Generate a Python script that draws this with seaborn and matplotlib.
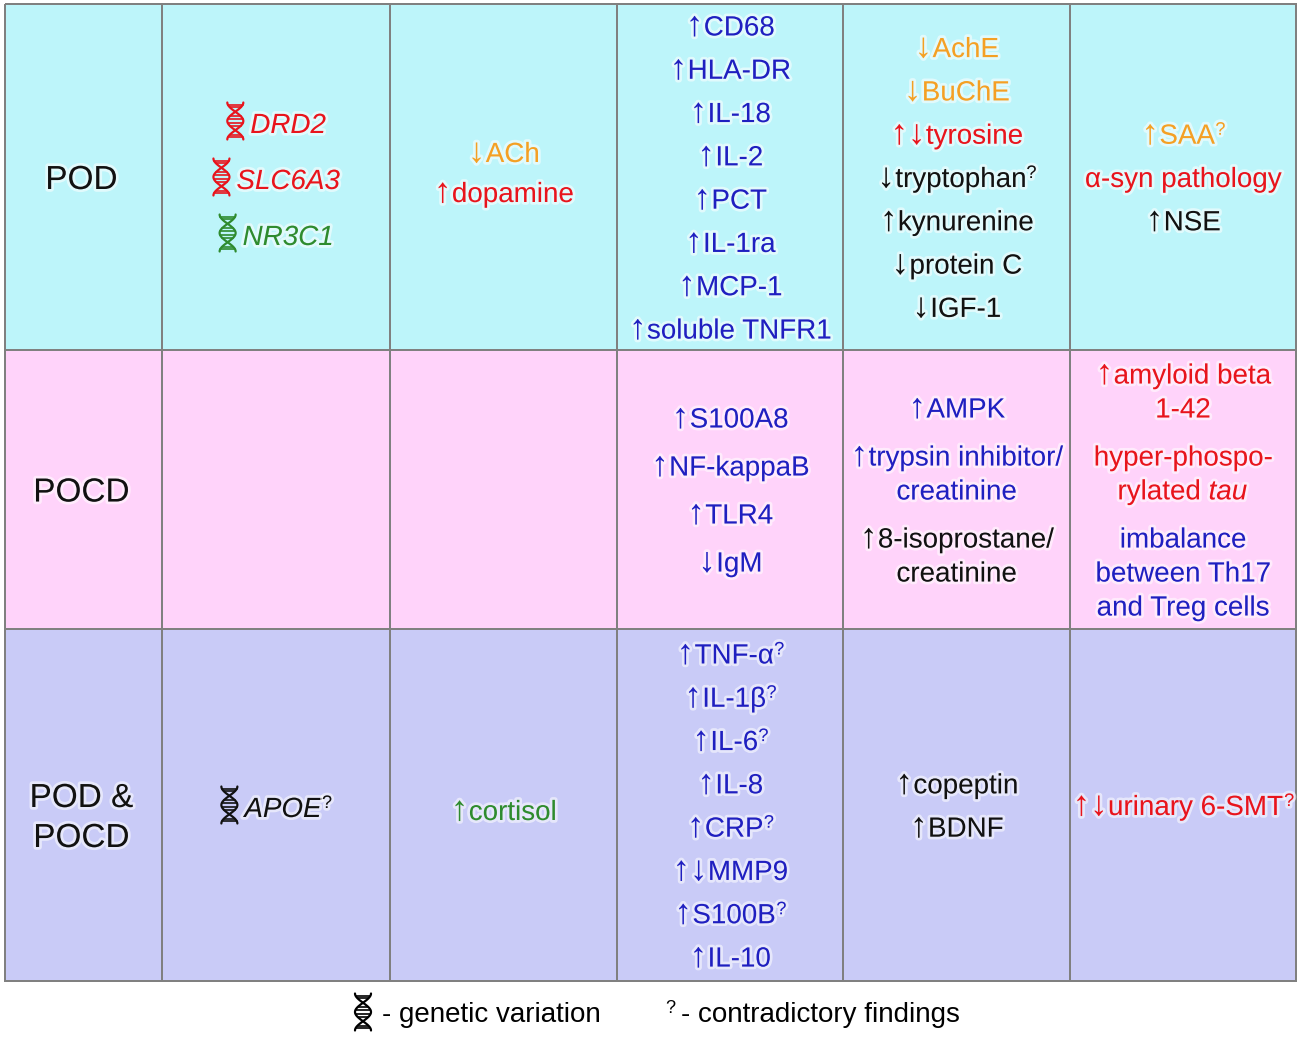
import numpy as np
import matplotlib
matplotlib.use('Agg')
import matplotlib.pyplot as plt
import matplotlib.patheffects as pe
from matplotlib.colors import ListedColormap
import seaborn as sns

#-----------------------------------------------------------------------
# table content (one list per cell, colour keys point to `ink`)
#-----------------------------------------------------------------------
row_names = ['POD', 'POCD', 'POD &\nPOCD']

genes_pod = [('DRD2', 'red'), ('SLC6A3', 'red'), ('NR3C1', 'green')]
genes_pocd = []
genes_both = [('APOE?', 'black')]

neuro_pod = [('↓ACh', 'orange'), ('↑dopamine', 'red')]
neuro_pocd = []
neuro_both = [('↑cortisol', 'green')]

immune_pod = [('↑CD68', 'blue'), ('↑HLA-DR', 'blue'), ('↑IL-18', 'blue'), ('↑IL-2', 'blue'),
              ('↑PCT', 'blue'), ('↑IL-1ra', 'blue'), ('↑MCP-1', 'blue'), ('↑soluble TNFR1', 'blue')]
immune_pocd = [('↑S100A8', 'blue'), ('↑NF-kappaB', 'blue'), ('↑TLR4', 'blue'), ('↓IgM', 'blue')]
immune_both = [('↑TNF-α?', 'blue'), ('↑IL-1β?', 'blue'), ('↑IL-6?', 'blue'), ('↑IL-8', 'blue'),
               ('↑CRP?', 'blue'), ('↑↓MMP9', 'blue'), ('↑S100B?', 'blue'), ('↑IL-10', 'blue')]

metab_pod = [('↓AchE', 'orange'), ('↓BuChE', 'orange'), ('↑↓tyrosine', 'red'),
             ('↓tryptophan?', 'black'), ('↑kynurenine', 'black'), ('↓protein C', 'black'),
             ('↓IGF-1', 'black')]
metab_pocd = [('↑AMPK', 'blue'), ('↑trypsin inhibitor/\ncreatinine', 'blue'),
              ('↑8-isoprostane/\ncreatinine', 'black')]
metab_both = [('↑copeptin', 'black'), ('↑BDNF', 'black')]

other_pod = [('↑SAA?', 'orange'), ('α-syn pathology', 'red'), ('↑NSE', 'black')]
other_pocd = [('↑amyloid beta\n1-42', 'red'), ('hyper-phospo-\nrylated $\\mathit{tau}$', 'red'),
              ('imbalance\nbetween Th17\nand Treg cells', 'blue')]
other_both = [('↑↓urinary 6-SMT?', 'red')]

cells = [[genes_pod, neuro_pod, immune_pod, metab_pod, other_pod],
         [genes_pocd, neuro_pocd, immune_pocd, metab_pocd, other_pocd],
         [genes_both, neuro_both, immune_both, metab_both, other_both]]

#-----------------------------------------------------------------------
# style / layout
#-----------------------------------------------------------------------
ink = {'blue': '#1F1FC0', 'red': '#E8141C', 'orange': '#F4A024',
       'green': '#2E8B2E', 'black': '#111111'}
row_fill = ['#BDF5FA', '#FFD3FA', '#C9CBF7']
col_edges = [5, 162, 390, 617, 843, 1070, 1296]
row_edges = [4, 350, 629, 981]

sns.set_theme(style='white')
plt.rcParams['font.family'] = ['Liberation Sans', 'DejaVu Sans']
plt.rcParams['mathtext.fontset'] = 'custom'
plt.rcParams['mathtext.rm'] = 'Liberation Sans'
plt.rcParams['mathtext.it'] = 'Liberation Sans:italic'

glow = [pe.withStroke(linewidth=4, foreground='white', alpha=0.55)]
FS = 20
FS_ROW = 24
FS_Q = 13
FS_ARROW = 25


def stack(items, step, line_step=34):
    out = []
    cur = 0
    for txt, c in items:
        lines = txt.split('\n')
        for j, ln in enumerate(lines):
            out.append([cur, ln, c])
            if j < len(lines) - 1:
                cur += line_step
        cur += step
    mid = (out[0][0] + out[-1][0]) / 2
    for o in out:
        o[0] -= mid
    return out


def dna(ax, cx, cy, color, h=37, w=16):
    s = np.linspace(0, 1, 60)
    y = cy - h / 2 + s * h
    ax.plot(cx + w / 2 * np.cos(2 * np.pi * s), y, color=color, lw=1.6)
    ax.plot(cx - w / 2 * np.cos(2 * np.pi * s), y, color=color, lw=1.6)
    for r in [0.06, 0.13, 0.37, 0.44, 0.56, 0.63, 0.87, 0.94]:
        xr = w / 2 * np.cos(2 * np.pi * r)
        ax.plot([cx - xr, cx + xr], [cy - h / 2 + r * h] * 2, color=color, lw=1.2)


def baseline(yc, size):
    return yc + 0.36 * size * 100 / 72


def line_text(xc, yc, s, color, italic=False):
    # one line of a cell: leading arrows, the name, a small raised "?"
    n = len(s) - len(s.lstrip('↑↓'))
    pieces = []
    if n:
        pieces.append((s[:n], FS_ARROW, 0, 'normal'))
    core = s[n:]
    q = core.endswith('?')
    pieces.append((core[:-1] if q else core, FS, 0, 'italic' if italic else 'normal'))
    if q:
        pieces.append(('?', FS_Q, 9, 'normal'))
    yb = baseline(yc, FS)
    texts, widths = [], []
    for txt, fs, lift, st in pieces:
        t = ax.text(0, yb - lift, txt, ha='left', va='baseline', fontsize=fs, style=st,
                    color=color, path_effects=glow)
        bb = t.get_window_extent(renderer)
        texts.append(t)
        widths.append(bb.width * 1300 / fig.bbox.width)
    x = xc - sum(widths) / 2
    x_start = x
    for t, w in zip(texts, widths):
        t.set_x(x)
        x += w + 0.5
    return x_start


fig = plt.figure(figsize=(13, 10.42), dpi=100)
ax = fig.add_axes([0, 0, 1, 1])
ax.set_xlim(0, 1300)
ax.set_ylim(1042, 0)
ax.axis('off')

# cell backgrounds and grid
grid = np.repeat(np.arange(3)[:, None], 6, axis=1)
ax.pcolormesh(col_edges, row_edges, grid, cmap=ListedColormap(row_fill),
              edgecolors='#808080', linewidth=1.4)

fig.canvas.draw()
renderer = fig.canvas.get_renderer()

for ri, name in enumerate(row_names):
    yc = (row_edges[ri] + row_edges[ri + 1]) / 2
    x1 = (col_edges[0] + col_edges[1]) / 2 - 2
    shift = 10 if '\n' in name else 0
    for dy, ln, c in stack([(name, 'black')], 0, line_step=40):
        ax.text(x1, baseline(yc + dy + shift, FS_ROW), ln, ha='center', va='baseline',
                fontsize=FS_ROW, color=ink[c], path_effects=glow)

    for ci, items in enumerate(cells[ri]):
        if not items:
            continue
        xc = (col_edges[ci + 1] + col_edges[ci + 2]) / 2
        shift = 0
        if ci == 0:
            step = 56
            shift = 2
        elif ri == 1:
            step = 48
        elif ci == 1:
            step = 40
            shift = -5 if ri == 0 else 5
        else:
            step = 43.3
        for dy, ln, c in stack(items, step):
            y = yc + dy + shift
            if ci == 0:
                x0 = line_text(xc + 12, y, ln, ink[c], italic=True)
                dna(ax, x0 - 15, y - 2, ink[c])
            else:
                line_text(xc, y, ln, ink[c])

# key at the bottom
dna(ax, 363, 1012, 'black')
ax.text(382, baseline(1012, FS), '- genetic variation', ha='left', va='baseline',
        fontsize=FS, color='black')
ax.text(665, baseline(1012, FS) - 9, '?', ha='left', va='baseline', fontsize=FS_Q,
        color='black')
ax.text(681, baseline(1012, FS), '- contradictory findings', ha='left',
        va='baseline', fontsize=FS, color='black')

plt.savefig('out.png', dpi=100)
